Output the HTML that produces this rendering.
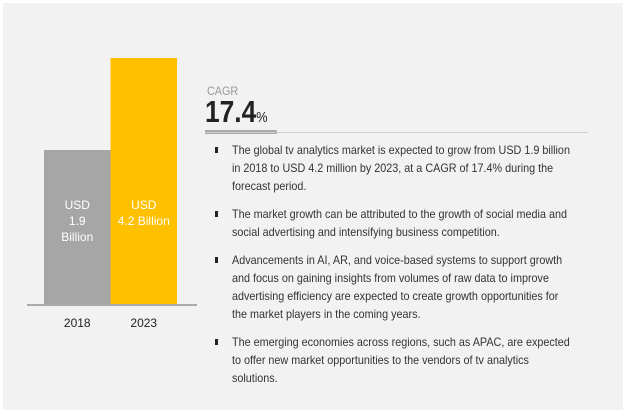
<!DOCTYPE html>
<html><head><meta charset="utf-8"><style>
body{margin:0;width:633px;height:418px;background:#fff;font-family:"Liberation Sans",sans-serif;overflow:hidden}
#panel{position:absolute;left:3px;top:3px;width:620px;height:407px;background:#f2f2f2}
.t{position:absolute;color:#333;font-size:12px;line-height:18px;white-space:nowrap;transform:scaleX(0.9);transform-origin:0 0}
.b{position:absolute;width:3px;height:6px;background:#222}
</style></head><body>
<div id="panel"></div>
<svg id="chart" width="633" height="418" style="position:absolute;left:0;top:0"></svg>
<div class="t" style="left:207px;top:82px;color:#999;font-size:12px">CAGR</div>
<div class="t" style="left:205px;top:96px;font-size:31px;line-height:32px;font-weight:bold;color:#222;transform:scaleX(0.85)">17.4<span style="font-size:15px;font-weight:normal">%</span></div>
<div style="position:absolute;left:205px;top:130px;width:72px;height:4px;background:#aaa"></div>
<div style="position:absolute;left:205px;top:132px;width:383px;height:1px;background:#ccc"></div>
<div class="b" style="left:215px;top:147px"></div>
<div class="t" style="left:232px;top:141px">The global tv analytics market is expected to grow from USD 1.9 billion<br>in 2018 to USD 4.2 million by 2023, at a CAGR of 17.4% during the<br>forecast period.</div>
<div class="b" style="left:215px;top:211px"></div>
<div class="t" style="left:232px;top:205px">The market growth can be attributed to the growth of social media and<br>social advertising and intensifying business competition.</div>
<div class="b" style="left:215px;top:257px"></div>
<div class="t" style="left:232px;top:251px">Advancements in AI, AR, and voice-based systems to support growth<br>and focus on gaining insights from volumes of raw data to improve<br>advertising efficiency are expected to create growth opportunities for<br>the market players in the coming years.</div>
<div class="b" style="left:215px;top:339px"></div>
<div class="t" style="left:232px;top:333px">The emerging economies across regions, such as APAC, are expected<br>to offer new market opportunities to the vendors of tv analytics<br>solutions.</div>
<script>
const categories=["2018","2023"];
const values=[1.9,4.2];
const barLabels=[["USD","1.9","Billion"],["USD","4.2 Billion"]];
const colors=["#a6a6a6","#ffc000"];
const NS="http://www.w3.org/2000/svg";
const svg=document.getElementById('chart');
const base=305, x0=44, bw=66.5;
function y(v){return base-(79+40*v);}
function mk(t,a){const e=document.createElementNS(NS,t);for(const k in a)e.setAttribute(k,a[k]);svg.appendChild(e);return e;}
categories.forEach((c,i)=>{
  const r=mk('rect',{x:x0+i*bw,y:y(values[i]),width:bw,height:base-y(values[i]),fill:colors[i]});
  
  
  const cx=x0+i*bw+bw/2;
  barLabels[i].forEach((s,j)=>{
    const t=mk('text',{x:cx,y:209+j*16,'text-anchor':'middle',fill:'#fff','font-size':'12','font-family':'"Liberation Sans",sans-serif'});
    t.textContent=s;
    
    
  });
  const l=mk('text',{x:cx,y:327,'text-anchor':'middle',fill:'#222','font-size':'12','font-family':'"Liberation Sans",sans-serif'});
  l.textContent=c;
  
  
});
const ax=mk('rect',{x:27,y:304,width:170,height:2,fill:'#aaa'});


</script>
</body></html>
